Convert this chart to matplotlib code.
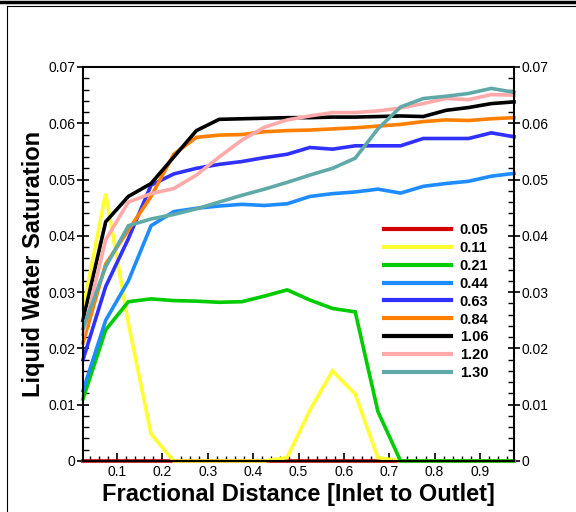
import matplotlib
matplotlib.use("Agg")
import matplotlib.pyplot as plt
from matplotlib.lines import Line2D
from matplotlib.ticker import MultipleLocator, FormatStrFormatter, FuncFormatter

plt.rcParams['font.family'] = ['Liberation Sans', 'DejaVu Sans']

x = [0.025, 0.075, 0.125, 0.175, 0.225, 0.275, 0.325, 0.375, 0.425, 0.475,
     0.525, 0.575, 0.625, 0.675, 0.725, 0.775, 0.825, 0.875, 0.925, 0.975]

labels = ["0.05", "0.11", "0.21", "0.44", "0.63", "0.84", "1.06", "1.20", "1.30"]
colors = ["#d40000", "#ffff33", "#00cc00", "#1e8cff", "#3030ff", "#ff8000",
          "#000000", "#ffaaaa", "#5faaa8"]

s005 = [0.0] * 20
s011 = [0.027, 0.0475, 0.0245, 0.0048, 0.0, 0.0, 0.0, 0.0, 0.0, 0.0006,
        0.009, 0.016, 0.0119, 0.0006, 0.0, 0.0, 0.0, 0.0, 0.0, 0.0]
s021 = [0.011, 0.0233, 0.0283, 0.0288, 0.0285, 0.0284, 0.0282, 0.0283, 0.0293, 0.0304,
        0.0286, 0.0271, 0.0265, 0.0088, 0.0, 0.0, 0.0, 0.0, 0.0, 0.0]
s044 = [0.0125, 0.025, 0.032, 0.0418, 0.0443, 0.0449, 0.0453, 0.0456, 0.0454, 0.0457,
        0.047, 0.0475, 0.0478, 0.0483, 0.0476, 0.0488, 0.0493, 0.0497, 0.0506, 0.0511]
s063 = [0.018, 0.031, 0.0395, 0.049, 0.051, 0.052, 0.0527, 0.0532, 0.0539, 0.0545,
        0.0557, 0.0554, 0.056, 0.056, 0.056, 0.0573, 0.0573, 0.0573, 0.0583, 0.0576]
s084 = [0.021, 0.035, 0.041, 0.047, 0.0545, 0.0575, 0.0579, 0.058, 0.0585, 0.0587,
        0.0588, 0.059, 0.0592, 0.0595, 0.0598, 0.0603, 0.0606, 0.0605, 0.0608, 0.061]
s106 = [0.025, 0.0425, 0.047, 0.0493, 0.054, 0.0587, 0.0607, 0.0608, 0.0609, 0.061,
        0.061, 0.0611, 0.0611, 0.0612, 0.0613, 0.0612, 0.0623, 0.0628, 0.0635, 0.0638]
s120 = [0.0225, 0.0393, 0.046, 0.0475, 0.0484, 0.0508, 0.054, 0.057, 0.0593, 0.0606,
        0.0613, 0.0619, 0.0619, 0.0622, 0.0627, 0.0635, 0.0644, 0.0642, 0.0651, 0.065]
s130 = [0.0235, 0.0345, 0.0418, 0.043, 0.0438, 0.0448, 0.046, 0.0472, 0.0483, 0.0495,
        0.0508, 0.052, 0.0538, 0.059, 0.0629, 0.0644, 0.0648, 0.0653, 0.0662, 0.0655]
series = [s005, s011, s021, s044, s063, s084, s106, s120, s130]

fig = plt.figure(figsize=(5.76, 5.12), dpi=100)
ax = fig.add_axes([83 / 576, 1 - 461 / 512, (514 - 83) / 576, (461 - 67) / 512])

for ys, c, lab in zip(series, colors, labels):
    ax.plot(x, ys, color=c, lw=2.6, label=lab, clip_on=False, solid_joinstyle='miter')

ax.set_xlim(0.025, 0.975)
ax.set_ylim(0, 0.07)

ax.xaxis.set_major_locator(MultipleLocator(0.1))
ax.xaxis.set_minor_locator(MultipleLocator(0.02))
ax.yaxis.set_major_locator(MultipleLocator(0.01))
ax.yaxis.set_minor_locator(MultipleLocator(0.002))

def yfmt(v, pos):
    if abs(v) < 1e-9:
        return "0"
    return "%.2f" % v

ax.yaxis.set_major_formatter(FuncFormatter(yfmt))
ax.xaxis.set_major_formatter(FormatStrFormatter("%.1f"))

ax.tick_params(axis='y', which='major', direction='inout', length=8, width=1.2,
               left=True, right=True, labelleft=True, labelright=True, labelsize=10, pad=1.5)
ax.tick_params(axis='y', which='minor', direction='in', length=4, width=1.0,
               left=True, right=True)
ax.tick_params(axis='x', which='major', direction='in', length=6, width=1.2,
               top=False, bottom=True, labelsize=10, pad=3)
ax.tick_params(axis='x', which='minor', direction='in', length=3.5, width=1.0,
               top=False, bottom=True)
for sp in ax.spines.values():
    sp.set_linewidth(1.5)

ax.set_xlabel("Fractional Distance [Inlet to Outlet]", fontsize=17, fontweight='bold', labelpad=3)
ax.set_ylabel("Liquid Water Saturation", fontsize=17, fontweight='bold', labelpad=2)

leg = ax.legend(loc='upper left', bbox_to_anchor=((378 - 83) / 431, (461 - 217) / 394),
                frameon=False, handlelength=4.6, handletextpad=0.6, labelspacing=0.27,
                prop={'weight': 'bold', 'size': 10.5}, borderaxespad=0)
for h in leg.get_lines():
    h.set_linewidth(3)

# outer frame
fig.add_artist(Line2D([0, 1], [1 - 1.5 / 512, 1 - 1.5 / 512], color='black', lw=2.5,
                      transform=fig.transFigure))
fig.add_artist(Line2D([7 / 576, 1], [1 - 6 / 512, 1 - 6 / 512], color='black', lw=0.8,
                      transform=fig.transFigure))
fig.add_artist(Line2D([7 / 576, 7 / 576], [0, 1 - 6 / 512], color='black', lw=0.8,
                      transform=fig.transFigure))

fig.savefig("out.png", dpi=100)
